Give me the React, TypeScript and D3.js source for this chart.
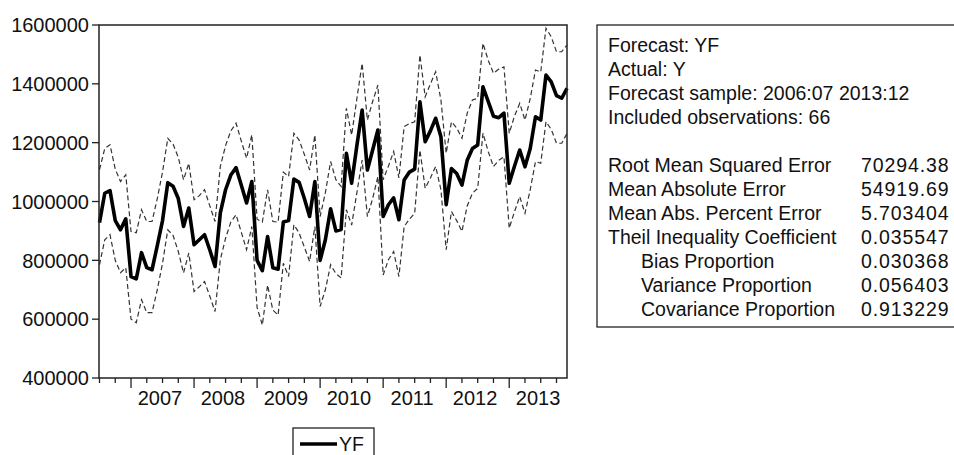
import * as d3 from "d3";
import React from "react";

// forecast sample 2006:07 .. 2013:12, one value per month
const startYear = 2006;
const startMonth = 7;

const yf = [
  928000, 1028000, 1037000, 935000, 904000, 941000, 745000, 737000, 826000, 775000,
  768000, 850000, 935000, 1064000, 1052000, 1010000, 915000, 978000, 853000, 870000,
  887000, 835000, 779000, 961000, 1040000, 1090000, 1115000, 1055000, 995000, 1068000,
  800000, 765000, 881000, 775000, 770000, 930000, 935000, 1076000, 1065000, 1010000,
  949000, 1068000, 800000, 870000, 975000, 900000, 905000, 1164000, 1062000, 1190000,
  1311000, 1107000, 1175000, 1243000, 949000, 989000, 1012000, 938000, 1073000, 1100000,
  1110000, 1339000, 1203000, 1240000, 1283000, 1220000, 989000, 1112000, 1095000, 1056000,
  1140000, 1180000, 1192000, 1390000, 1340000, 1290000, 1285000, 1300000, 1062000, 1120000,
  1175000, 1118000, 1180000, 1288000, 1277000, 1430000, 1407000, 1360000, 1351000, 1385000,
];

// +2 S.E.
const upper = [
  1108000, 1180000, 1193000, 1110000, 1068000, 1091000, 898000, 894000, 972000, 932000,
  932000, 1010000, 1100000, 1215000, 1195000, 1150000, 1074000, 1130000, 1006000, 1020000,
  1040000, 985000, 932000, 1119000, 1190000, 1240000, 1266000, 1205000, 1147000, 1227000,
  940000, 930000, 1040000, 932000, 930000, 1100000, 1085000, 1232000, 1209000, 1160000,
  1107000, 1226000, 949000, 1030000, 1136000, 1074000, 1051000, 1317000, 1226000, 1350000,
  1470000, 1277000, 1340000, 1396000, 1074000, 1120000, 1170000, 1080000, 1255000, 1265000,
  1271000, 1498000, 1356000, 1400000, 1441000, 1345000, 1164000, 1271000, 1250000, 1215000,
  1300000, 1345000, 1351000, 1538000, 1480000, 1436000, 1450000, 1458000, 1232000, 1290000,
  1334000, 1277000, 1350000, 1447000, 1440000, 1589000, 1560000, 1509000, 1509000, 1532000,
];

// -2 S.E.
const lower = [
  785000, 870000, 887000, 800000, 758000, 775000, 600000, 588000, 666000, 622000,
  622000, 700000, 790000, 904000, 885000, 830000, 757000, 825000, 694000, 710000,
  728000, 678000, 626000, 802000, 875000, 930000, 955000, 895000, 836000, 915000,
  640000, 580000, 716000, 631000, 614000, 790000, 745000, 921000, 893000, 845000,
  796000, 915000, 643000, 700000, 785000, 755000, 740000, 972000, 920000, 1030000,
  1141000, 949000, 1010000, 1085000, 750000, 802000, 830000, 745000, 915000, 940000,
  960000, 1175000, 1045000, 1080000, 1119000, 1040000, 836000, 966000, 935000, 898000,
  985000, 1028000, 1045000, 1232000, 1170000, 1119000, 1140000, 1152000, 909000, 965000,
  1017000, 960000, 1040000, 1136000, 1130000, 1271000, 1245000, 1198000, 1198000, 1232000,
];

const yTicks = [400000, 600000, 800000, 1000000, 1200000, 1400000, 1600000];
const years = [2007, 2008, 2009, 2010, 2011, 2012, 2013];

const headerLines = [
  "Forecast: YF",
  "Actual: Y",
  "Forecast sample: 2006:07 2013:12",
  "Included observations: 66",
];
const statNames = [
  "Root Mean Squared Error",
  "Mean Absolute Error",
  "Mean Abs. Percent Error",
  "Theil Inequality Coefficient",
  "Bias Proportion",
  "Variance Proportion",
  "Covariance Proportion",
];
const statIndent = [false, false, false, false, true, true, true];
const statValues = [
  "70294.38",
  "54919.69",
  "5.703404",
  "0.035547",
  "0.030368",
  "0.056403",
  "0.913229",
];

export default function App() {
  const width = 954;
  const height = 455;
  const left = 99;
  const right = 567;
  const top = 25;
  const bottom = 378;
  const font = "Arial, 'Liberation Sans', sans-serif";

  const n = yf.length;
  const x = d3.scaleLinear([0, n - 1], [left + 0.5, right]);
  const y = d3.scaleLinear([400000, 1600000], [bottom, top]);

  const line = d3
    .line<number>()
    .x((_, i) => x(i))
    .y((d) => y(d));

  // quarterly ticks, year ticks longer
  const qTicks = d3.range(0, n, 3);
  const monthOf = (i: number) => (startMonth - 1 + i) % 12;

  const yearCenter = (yr: number) => {
    const first = (yr - startYear) * 12 - (startMonth - 1);
    return x(first + 5.5);
  };

  return (
    <svg
      width={width}
      height={height}
      style={{ position: "absolute", left: 0, top: 0, background: "#fff" }}
      fontFamily={font}
    >
      {/* y axis */}
      <g fontSize={20} textAnchor="end" fill="#111">
        {yTicks.map((t) => (
          <g key={t}>
            <line x1={left - 7} x2={left} y1={y(t)} y2={y(t)} stroke="#222" strokeWidth={1.3} />
            <text x={left - 10} y={y(t)} dy="0.36em">
              {t}
            </text>
          </g>
        ))}
      </g>

      {/* x axis */}
      <g fontSize={20} textAnchor="middle" fill="#111">
        {qTicks.map((i) => (
          <line
            key={i}
            x1={x(i)}
            x2={x(i)}
            y1={bottom}
            y2={bottom + (monthOf(i) === 0 ? 10 : 5)}
            stroke="#222"
            strokeWidth={1.3}
          />
        ))}
        {years.map((yr) => (
          <text key={yr} x={yearCenter(yr)} y={bottom + 27}>
            {yr}
          </text>
        ))}
      </g>

      {/* bands */}
      <path d={line(upper) ?? ""} fill="none" stroke="#333" strokeWidth={1.2} strokeDasharray="5,3" />
      <path d={line(lower) ?? ""} fill="none" stroke="#333" strokeWidth={1.2} strokeDasharray="5,3" />
      {/* forecast */}
      <path d={line(yf) ?? ""} fill="none" stroke="#000" strokeWidth={3.6} strokeLinejoin="round" />

      {/* frame */}
      <rect x={left} y={top} width={right - left} height={bottom - top} fill="none" stroke="#222" strokeWidth={1.5} />

      {/* legend */}
      <rect x={293} y={428} width={81} height={34} fill="#fff" stroke="#222" strokeWidth={1.3} />
      <line x1={300} x2={337} y1={444} y2={444} stroke="#000" strokeWidth={3.5} />
      <text x={339} y={451} fontSize={19.5} fill="#111">
        YF
      </text>

      {/* stats box */}
      <rect x={597} y={25} width={370} height={302} fill="#fff" stroke="#222" strokeWidth={1.3} />
      <g fontSize={19.5} fill="#111">
        {headerLines.map((s, i) => (
          <text key={s} x={608} y={45 + i * 23.9} dy="0.36em">
            {s}
          </text>
        ))}
        {statNames.map((s, i) => (
          <g key={s}>
            <text x={statIndent[i] ? 641 : 608} y={165 + i * 24} dy="0.36em">
              {s}
            </text>
            <text x={861} y={165 + i * 24} dy="0.36em" letterSpacing={0.9}>
              {statValues[i]}
            </text>
          </g>
        ))}
      </g>
    </svg>
  );
}
